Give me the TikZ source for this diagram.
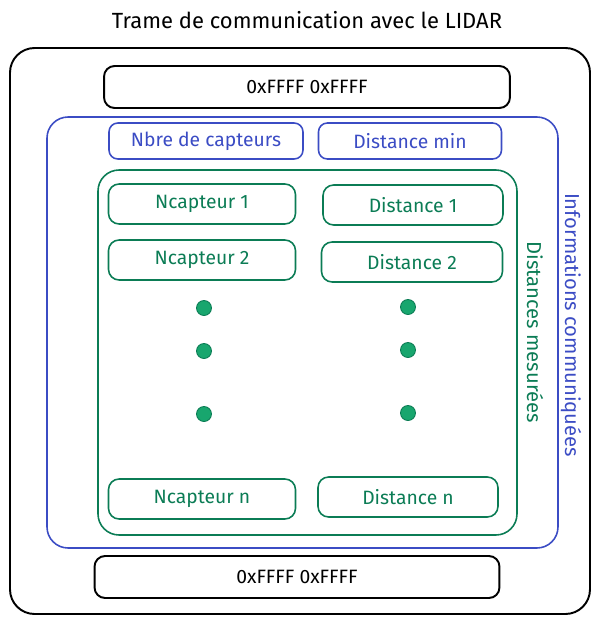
\documentclass[tikz,border=0pt]{standalone}
\usepackage{fontspec}
\setmainfont{Fira Sans}
\usetikzlibrary{positioning}

\definecolor{trameblue}{HTML}{3B4CC4}
\definecolor{tramegreen}{HTML}{0B7C55}
\definecolor{dotgreen}{HTML}{18A66E}

\begin{document}
\begin{tikzpicture}[x=0.02cm, y=-0.02cm,
			every node/.style={font=\fontsize{11}{13}\selectfont},
			blackbox/.style={draw, line width=1.1pt, rounded corners=6pt, minimum height=0.84cm},
			bluebox/.style={draw=trameblue, text=trameblue, line width=0.9pt, rounded corners=5pt, minimum height=0.72cm},
			greenbox/.style={draw=tramegreen, text=tramegreen, line width=0.9pt, rounded corners=6pt, minimum height=0.8cm},
			dot/.style={circle, fill=dotgreen, draw=tramegreen, line width=0.5pt, inner sep=0pt, minimum size=0.3cm}]

			\useasboundingbox (0, 0) rectangle (598, 623);

			% title and outer frame
			\node [font=\fontsize{12.5}{15}\selectfont] (title) at (307, 20) {Trame de communication avec le LIDAR};
			\draw [line width=1.1pt, rounded corners=14pt] (10, 48) rectangle (590, 614);

			% start and end markers
			\node [blackbox, minimum width=8.12cm] (debut) at (307, 87) {0xFFFF 0xFFFF};
			\node [blackbox, minimum width=8.1cm] (fin) at (297, 577) {0xFFFF 0xFFFF};

			% blue frame: communicated information
			\draw [trameblue, line width=0.9pt, rounded corners=12pt] (47, 117) rectangle (558, 548);
			\node [trameblue, rotate=-90, font=\fontsize{11.5}{13}\selectfont] (infos) at (571, 325) {Informations communiquées};
			\node [bluebox, minimum width=3.88cm] (nbre) at (206, 141) {Nbre de capteurs};
			\node [bluebox, minimum width=3.66cm] (dmin) at (410, 141) {Distance min};

			% green frame: measured distances
			\draw [tramegreen, line width=0.9pt, rounded corners=12pt] (98, 170) rectangle (517, 535);
			\node [tramegreen, rotate=-90, font=\fontsize{11.5}{13}\selectfont] (mesures) at (535, 332) {Distances mesurées};

			\node [greenbox, minimum width=3.74cm] (ncap1) at (202, 204) {Ncapteur 1};
			\node [greenbox, minimum width=3.6cm] (dist1) at (413, 205) {Distance 1};
			\node [greenbox, minimum width=3.74cm] (ncap2) at (202, 260) {Ncapteur 2};
			\node [greenbox, minimum width=3.62cm] (dist2) at (412, 262) {Distance 2};
			\node [greenbox, minimum width=3.74cm] (ncapn) at (202, 499) {Ncapteur n};
			\node [greenbox, minimum width=3.6cm] (distn) at (408, 497) {Distance n};

			% ellipsis dots
			\foreach \i/\y in {1/308, 2/351, 3/414} {
				\node [dot] (dotl\i) at (204, \y) {};
				\node [dot] (dotr\i) at (408, \y - 1) {};
			}
		\end{tikzpicture}
\end{document}
